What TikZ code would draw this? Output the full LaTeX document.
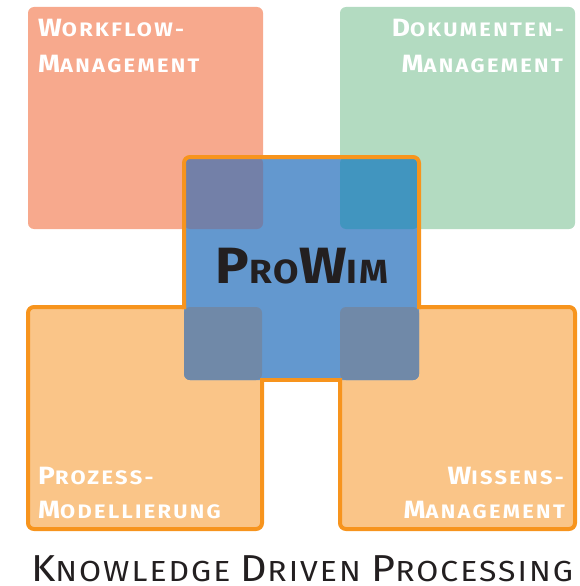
\documentclass[tikz,border=0pt]{standalone}
\usepackage{fontspec}
\setmainfont{Fira Sans}
\definecolor{wfcolor}{RGB}{247,169,141}
\definecolor{dmcolor}{RGB}{179,219,193}
\definecolor{lowcolor}{RGB}{250,197,136}
\definecolor{rimcolor}{RGB}{247,148,29}
\definecolor{pwcolor}{RGB}{99,152,207}
\definecolor{tlmix}{RGB}{115,128,168}
\definecolor{trmix}{RGB}{65,149,191}
\definecolor{lowmix}{RGB}{112,137,168}
\definecolor{inkcolor}{RGB}{35,31,32}
% fake small caps: big first letter, smaller rest
\newcommand\capword[2]{{\fontsize{25}{26}\selectfont #1}{\fontsize{19.5}{20}\selectfont #2}}
\newcommand\titlecap[2]{{\fontsize{51}{52}\selectfont #1}{\fontsize{33.5}{34}\selectfont #2}}
\newcommand\footcap[2]{{\fontsize{37.5}{38}\selectfont #1}{\fontsize{29}{30}\selectfont #2}}
\tikzset{
  boxlabel/.style={text=white, font=\bfseries\addfontfeature{LetterSpace=12,FakeStretch=1.12}, inner sep=0pt},
  rim/.style={draw=rimcolor, line width=4pt, line cap=rect}
}

\begin{document}
\begin{tikzpicture}[x=1pt, y=-1pt]
    \useasboundingbox (0,0) rectangle (580,586);

    % Draw the top boxes
    \fill[wfcolor, rounded corners=6] (28,7) rectangle (263,229);
    \fill[dmcolor, rounded corners=6] (340,7) rectangle (575,229);

    % Lower boxes
    \fill[lowcolor, rounded corners=6] (28,307) rectangle (262,529);
    \fill[lowcolor, rounded corners=6] (340,307) rectangle (575,529);

    % Central box and its overlaps
    \fill[pwcolor, rounded corners=6] (184,157) rectangle (419,380);
    \fill[tlmix, rounded corners=6] (184,157) rectangle (263,229);
    \fill[trmix, rounded corners=6] (340,157) rectangle (419,229);
    \fill[lowmix, rounded corners=6] (184,307) rectangle (262,380);
    \fill[lowmix, rounded corners=6] (340,307) rectangle (419,380);

    % Orange rim round centre and lower boxes
    \draw[rim, rounded corners=6] (184,307) -- (184,157) -- (419,157) -- (419,307);
    \draw[rim, rounded corners=6] (184,307) -- (28,307) -- (28,529) -- (262,529) -- (262,380);
    \draw[rim] (262,380) -- (340,380);
    \draw[rim, rounded corners=6] (340,380) -- (340,529) -- (575,529) -- (575,307) -- (419,307);

    % Box labels
    \node[boxlabel, anchor=base west] (wf1) at (38,37) {\capword{W}{ORKFLOW-}};
    \node[boxlabel, anchor=base west] (wf2) at (38,73) {\capword{M}{ANAGEMENT}};
    \node[boxlabel, anchor=base east] (dm1) at (564,37) {\capword{D}{OKUMENTEN-}};
    \node[boxlabel, anchor=base east] (dm2) at (563,73) {\capword{M}{ANAGEMENT}};
    \node[boxlabel, anchor=base west] (pm1) at (38,484) {\capword{P}{ROZESS-}};
    \node[boxlabel, anchor=base west] (pm2) at (38,518) {\capword{M}{ODELLIERUNG}};
    \node[boxlabel, anchor=base east] (wm1) at (564,484) {\capword{W}{ISSENS-}};
    \node[boxlabel, anchor=base east] (wm2) at (565,518) {\capword{M}{ANAGEMENT}};

    % Centre title
    \node[inner sep=0pt, text=inkcolor, font=\bfseries\addfontfeature{LetterSpace=5,FakeStretch=1.1}, anchor=base] (pw) at (302,283)
        {\titlecap{P}{RO}\titlecap{W}{IM}};

    % Caption
    \node[inner sep=0pt, text depth=0pt, text=inkcolor, font=\fontsize{29}{30}\selectfont\addfontfeature{LetterSpace=7,FakeStretch=1.1}, anchor=base] (kdp) at (302,581)
        {\footcap{K}{NOWLEDGE} \footcap{D}{RIVEN} \footcap{P}{ROCESSING}};

\end{tikzpicture}
\end{document}
